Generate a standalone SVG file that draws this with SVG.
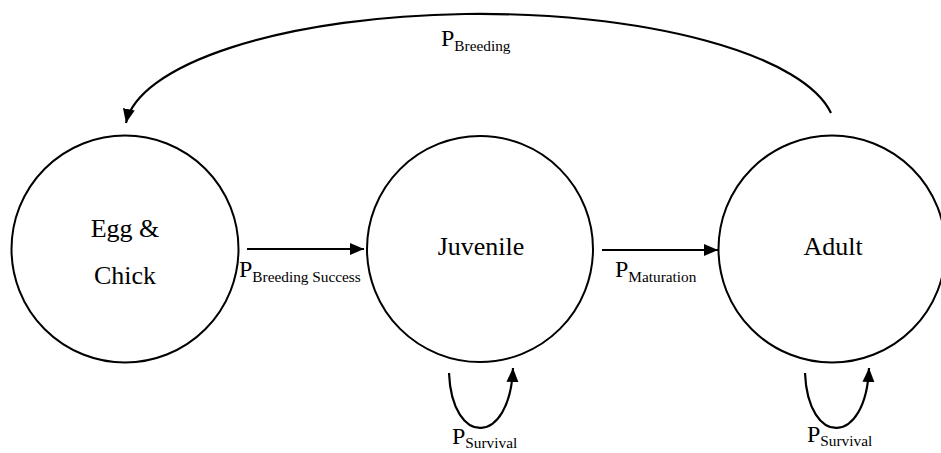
<svg xmlns="http://www.w3.org/2000/svg" width="941" height="453" viewBox="0 0 941 453">
  <style>
    text { font-family: "Liberation Serif", "Tinos", "Times New Roman", "DejaVu Serif", serif; fill: #000; }
    .node { fill: #fff; stroke: #000; stroke-width: 2; }
    .lbl { font-size: 26px; text-anchor: middle; }
    .p { font-size: 24px; }
    .sub { font-size: 15.3px; }
    .edge { fill: none; stroke: #000; stroke-width: 2.2; }
  </style>
  <defs>
    <marker id="ah" markerUnits="userSpaceOnUse" markerWidth="15" markerHeight="15" viewBox="0 0 15 15" refX="14" refY="7.5" orient="auto">
      <path d="M0,1.5 L14,7.5 L0,13.5 Z" fill="#000"/>
    </marker>
  </defs>
  <rect width="941" height="453" fill="#fff"/>
  <g id="node-egg">
    <circle class="node" cx="125" cy="249" r="113.5"/>
    <text class="lbl" x="125" y="237">Egg &amp;</text>
    <text class="lbl" x="125" y="284">Chick</text>
  </g>
  <g id="node-juvenile">
    <circle class="node" cx="480" cy="249" r="113"/>
    <text class="lbl" x="481" y="255">Juvenile</text>
  </g>
  <g id="node-adult">
    <circle class="node" cx="832" cy="249" r="113.5"/>
    <text class="lbl" x="833" y="255">Adult</text>
  </g>
  <g id="connectors">
    <path class="edge" d="M831,113 A355,117 0 0 0 126,123" marker-end="url(#ah)" stroke-width="2.6"/>
    <path class="edge" d="M247,249 L364,249" marker-end="url(#ah)"/>
    <path class="edge" d="M602,250 L718,250" marker-end="url(#ah)"/>
    <path class="edge" d="M449,373 C452,447 510,447 513,368" marker-end="url(#ah)"/>
    <path class="edge" d="M805,373 C808,447 866,447 869,368" marker-end="url(#ah)"/>
  </g>
  <g id="labels">
    <text class="p" x="441" y="46">P<tspan class="sub" dy="5">Breeding</tspan></text>
    <text class="p" x="239" y="277">P<tspan class="sub" dy="5">Breeding Success</tspan></text>
    <text class="p" x="615" y="277">P<tspan class="sub" dy="5">Maturation</tspan></text>
    <text class="p" x="452" y="444">P<tspan class="sub" dy="4">Survival</tspan></text>
    <text class="p" x="807" y="442">P<tspan class="sub" dy="4">Survival</tspan></text>
  </g>
</svg>
